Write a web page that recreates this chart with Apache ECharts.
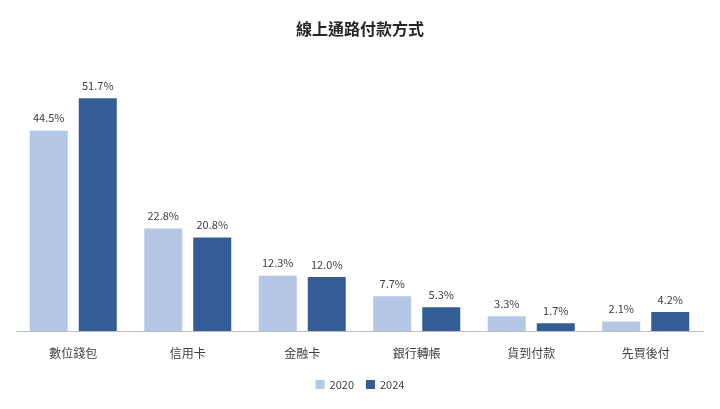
<!DOCTYPE html>
<html>
<head>
<meta charset="utf-8">
<script src="https://cdn.jsdelivr.net/npm/echarts@6/dist/echarts.min.js"></script>
<style>
  html, body { margin: 0; padding: 0; background: #fff; }
  #main { width: 720px; height: 409px; }
</style>
</head>
<body>
<div id="main"></div>
<script>
var categories = ['數位錢包', '信用卡', '金融卡', '銀行轉帳', '貨到付款', '先買後付'];
var values2020 = [44.5, 22.8, 12.3, 7.7, 3.3, 2.1];
var values2024 = [51.7, 20.8, 12.0, 5.3, 1.7, 4.2];

var font = '"Noto Sans CJK TC", "Noto Sans", sans-serif';
var labelStyle = {
    show: true,
    position: 'top',
    distance: 7,
    color: '#404040',
    fontSize: 11,
    fontFamily: font,
    formatter: function (p) { return p.value.toFixed(1) + '%'; }
};

var myChart = echarts.init(document.getElementById('main'));
var option = {
    backgroundColor: '#fff',
    title: {
        text: '線上通路付款方式',
        left: 'center',
        top: 16,
        textStyle: { fontSize: 16, fontWeight: 'bold', color: '#262626', fontFamily: font }
    },
    legend: {
        bottom: 14,
        itemWidth: 9,
        itemHeight: 9,
        itemGap: 12,
        icon: 'rect',
        textStyle: { fontSize: 11, color: '#404040', fontFamily: font },
        data: ['2020', '2024']
    },
    grid: { left: 16, right: 17, top: 61, bottom: 78 },
    xAxis: {
        type: 'category',
        data: categories,
        axisLine: { lineStyle: { color: '#bfbfbf' } },
        axisTick: { show: false },
        axisLabel: { color: '#404040', fontSize: 12, margin: 16, fontFamily: font }
    },
    yAxis: { type: 'value', min: 0, max: 60, show: false, splitLine: { show: false } },
    series: [
        {
            name: '2020', type: 'bar', data: values2020, barWidth: 38, barGap: '29%',
            itemStyle: { color: '#b4c7e7' }, label: labelStyle
        },
        {
            name: '2024', type: 'bar', data: values2024, barWidth: 38,
            itemStyle: { color: '#335d94' }, label: labelStyle
        }
    ]
};
myChart.setOption(option);
</script>
</body>
</html>
